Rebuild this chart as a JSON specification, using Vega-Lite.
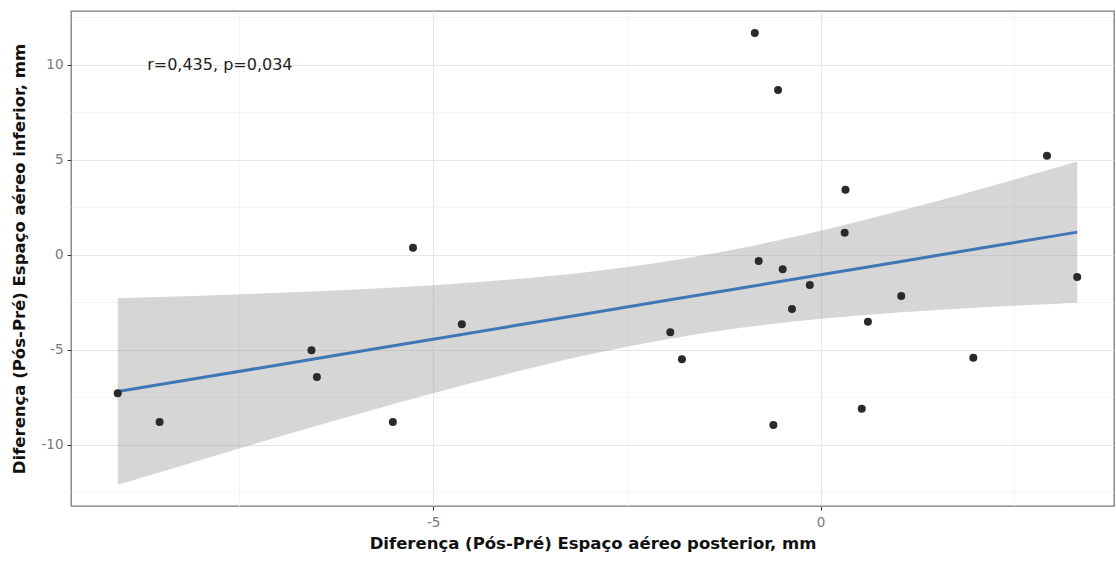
{
  "$schema": "https://vega.github.io/schema/vega-lite/v6.json",
  "width": 1043,
  "height": 495,
  "autosize": {"type": "none"},
  "padding": {"left": 71, "top": 11, "right": 2, "bottom": 57},
  "background": "white",
  "config": {
    "font": "DejaVu Sans",
    "view": {"stroke": "#7a7a7a", "strokeWidth": 1.3},
    "axis": {
      "domain": false,
      "tickColor": "#333333",
      "tickSize": 4,
      "tickWidth": 1,
      "labelColor": "#7a7a7a",
      "labelFontSize": 13.5,
      "labelFont": "DejaVu Sans",
      "titleFont": "DejaVu Sans",
      "titleFontSize": 16.5,
      "titleFontWeight": "bold",
      "titleColor": "#111111",
      "gridWidth": {"condition": {"test": "datum.value % 5 != 0", "value": 0.7}, "value": 1.2},
      "gridColor": {"condition": {"test": "datum.value % 5 != 0", "value": "#f1f1f1"}, "value": "#e6e6e6"},
      "tickOpacity": {"condition": {"test": "datum.value % 5 != 0", "value": 0}, "value": 1}
    }
  },
  "datasets": {
    "pts": [
      {"x": -9.07, "y": -7.30},
      {"x": -8.53, "y": -8.81},
      {"x": -6.57, "y": -5.03},
      {"x": -6.50, "y": -6.44},
      {"x": -5.52, "y": -8.81},
      {"x": -5.26, "y": 0.37},
      {"x": -4.63, "y": -3.66},
      {"x": -1.94, "y": -4.08},
      {"x": -1.79, "y": -5.51},
      {"x": -0.61, "y": -8.96},
      {"x": -0.85, "y": 11.67},
      {"x": -0.55, "y": 8.67},
      {"x": -0.80, "y": -0.33},
      {"x": -0.49, "y": -0.77},
      {"x": -0.14, "y": -1.59},
      {"x": -0.37, "y": -2.86},
      {"x": 0.32, "y": 3.42},
      {"x": 0.31, "y": 1.16},
      {"x": 1.04, "y": -2.17},
      {"x": 0.61, "y": -3.53},
      {"x": 1.97, "y": -5.42},
      {"x": 0.53, "y": -8.11},
      {"x": 2.92, "y": 5.21},
      {"x": 3.31, "y": -1.17}
    ],
    "band": [
      {"x": -9.07, "fit": -7.206, "lo": -12.115, "hi": -2.297},
      {"x": -8, "fit": -6.481, "lo": -10.804, "hi": -2.158},
      {"x": -7, "fit": -5.803, "lo": -9.599, "hi": -2.007},
      {"x": -6, "fit": -5.125, "lo": -8.423, "hi": -1.827},
      {"x": -5, "fit": -4.447, "lo": -7.291, "hi": -1.603},
      {"x": -4, "fit": -3.769, "lo": -6.229, "hi": -1.309},
      {"x": -3, "fit": -3.091, "lo": -5.273, "hi": -0.909},
      {"x": -2, "fit": -2.413, "lo": -4.467, "hi": -0.359},
      {"x": -1, "fit": -1.735, "lo": -3.838, "hi": 0.368},
      {"x": 0, "fit": -1.057, "lo": -3.376, "hi": 1.262},
      {"x": 1, "fit": -0.379, "lo": -3.040, "hi": 2.282},
      {"x": 2, "fit": 0.299, "lo": -2.788, "hi": 3.386},
      {"x": 3, "fit": 0.977, "lo": -2.590, "hi": 4.544},
      {"x": 3.31, "fit": 1.188, "lo": -2.536, "hi": 4.912}
    ]
  },
  "layer": [
    {
      "data": {"name": "band"},
      "mark": {"type": "area", "color": "#999999", "opacity": 0.4, "interpolate": "monotone"},
      "encoding": {
        "x": {
          "field": "x", "type": "quantitative",
          "scale": {"domain": [-9.673, 3.785], "nice": false, "zero": false},
          "axis": {
            "values": [-7.5, -5, -2.5, 0, 2.5],
            "labelExpr": "datum.value % 5 == 0 ? '' + datum.value : ''",
            "title": "Diferença (Pós-Pré) Espaço aéreo posterior, mm",
            "labelPadding": 5,
            "titlePadding": 7
          }
        },
        "y": {
          "field": "lo", "type": "quantitative",
          "scale": {"domain": [-13.23, 12.83], "nice": false, "zero": false},
          "axis": {
            "values": [-12.5, -10, -7.5, -5, -2.5, 0, 2.5, 5, 7.5, 10, 12.5],
            "labelExpr": "datum.value % 5 == 0 ? '' + datum.value : ''",
            "title": "Diferença (Pós-Pré) Espaço aéreo inferior, mm",
            "labelPadding": 4,
            "titleX": -44
          }
        },
        "y2": {"field": "hi"}
      }
    },
    {
      "data": {"name": "band"},
      "mark": {"type": "line", "color": "#3f76b5", "strokeWidth": 3},
      "encoding": {
        "x": {"field": "x", "type": "quantitative"},
        "y": {"field": "fit", "type": "quantitative"}
      }
    },
    {
      "data": {"name": "pts"},
      "mark": {"type": "circle", "size": 64, "color": "#2a2a2a", "opacity": 1},
      "encoding": {
        "x": {"field": "x", "type": "quantitative"},
        "y": {"field": "y", "type": "quantitative"}
      }
    },
    {
      "data": {"values": [{"label": "r=0,435, p=0,034", "x": -8.69, "y": 10}]},
      "mark": {"type": "text", "align": "left", "baseline": "middle", "fontSize": 16, "color": "#222222", "font": "DejaVu Sans"},
      "encoding": {
        "x": {"field": "x", "type": "quantitative"},
        "y": {"field": "y", "type": "quantitative"},
        "text": {"field": "label"}
      }
    }
  ]
}
